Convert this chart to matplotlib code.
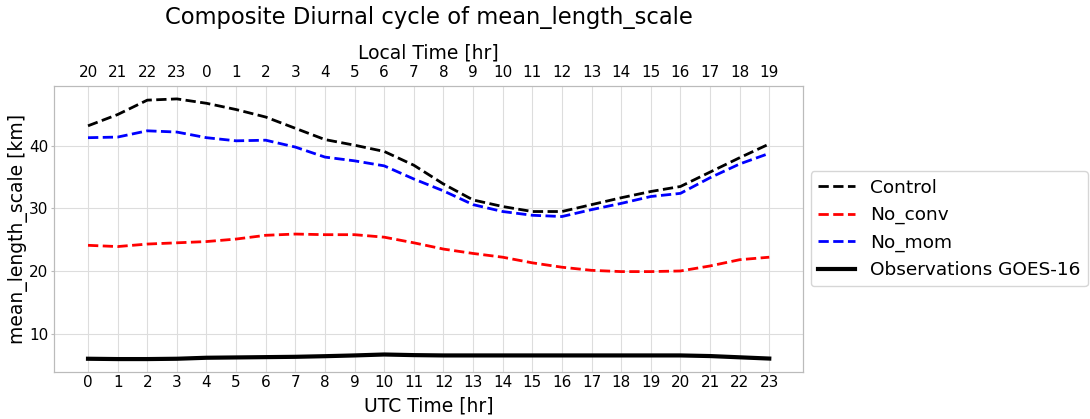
import matplotlib
matplotlib.use("Agg")
import matplotlib.pyplot as plt
import numpy as np

hours = np.arange(24)
local_labels = [(h - 4) % 24 for h in hours]

control = [43.2, 45.0, 47.3, 47.5, 46.8, 45.8, 44.6, 42.8, 41.0, 40.1, 39.1, 36.9,
           33.9, 31.35, 30.3, 29.5, 29.5, 30.6, 31.7, 32.7, 33.5, 35.8, 38.1, 40.3]
no_conv = [24.1, 23.9, 24.3, 24.5, 24.7, 25.1, 25.7, 25.9, 25.8, 25.8, 25.4, 24.5,
           23.5, 22.8, 22.2, 21.3, 20.6, 20.1, 19.9, 19.9, 20.0, 20.8, 21.8, 22.2]
no_mom = [41.3, 41.4, 42.4, 42.2, 41.3, 40.8, 40.9, 39.8, 38.2, 37.6, 36.8, 34.7,
          32.8, 30.6, 29.5, 28.9, 28.7, 29.8, 30.8, 31.9, 32.4, 34.9, 37.1, 38.8]
goes16 = [5.97, 5.92, 5.92, 5.97, 6.13, 6.18, 6.23, 6.28, 6.38, 6.5, 6.65, 6.55,
          6.5, 6.5, 6.5, 6.5, 6.5, 6.5, 6.5, 6.5, 6.5, 6.4, 6.2, 6.0]

fig = plt.figure(figsize=(10.9, 4.19), dpi=100)
ax = fig.add_axes([0.0495, 0.112, 0.6875, 0.683])

ax.plot(hours, control, color="black", ls="--", lw=2, label="Control")
ax.plot(hours, no_conv, color="red", ls="--", lw=2, label="No_conv")
ax.plot(hours, no_mom, color="blue", ls="--", lw=2, label="No_mom")
ax.plot(hours, goes16, color="black", ls="-", lw=3, label="Observations GOES-16")

ax.set_xticks(hours)
ax.set_yticks([10, 20, 30, 40])
ax.grid(True, color="#dddddd", lw=0.8)
ax.tick_params(labelsize=11, color="#bbbbbb")
ax.tick_params(axis="x", length=0, pad=2)
ax.tick_params(axis="y", length=2, pad=2)
for spine in ax.spines.values():
    spine.set_edgecolor("#bbbbbb")
ax.set_xlabel("UTC Time [hr]", fontsize=13.5, labelpad=5)
ax.set_ylabel("mean_length_scale [km]", fontsize=13.5, labelpad=1)

# local time axis on top (UTC-4)
ax2 = ax.twiny()
ax2.set_xlim(ax.get_xlim())
ax2.set_xticks(hours)
ax2.set_xticklabels(local_labels)
ax2.tick_params(labelsize=11, length=0, pad=4)
for spine in ax2.spines.values():
    spine.set_edgecolor("#bbbbbb")
ax2.set_xlabel("Local Time [hr]", fontsize=13.5, labelpad=5)
ax2.set_title("Composite Diurnal cycle of mean_length_scale", fontsize=16.3, pad=14)

ax.legend(loc="center left", bbox_to_anchor=(1.0, 0.5), borderaxespad=0.4,
          fontsize=13.3)

fig.savefig("out.png", dpi=100)
